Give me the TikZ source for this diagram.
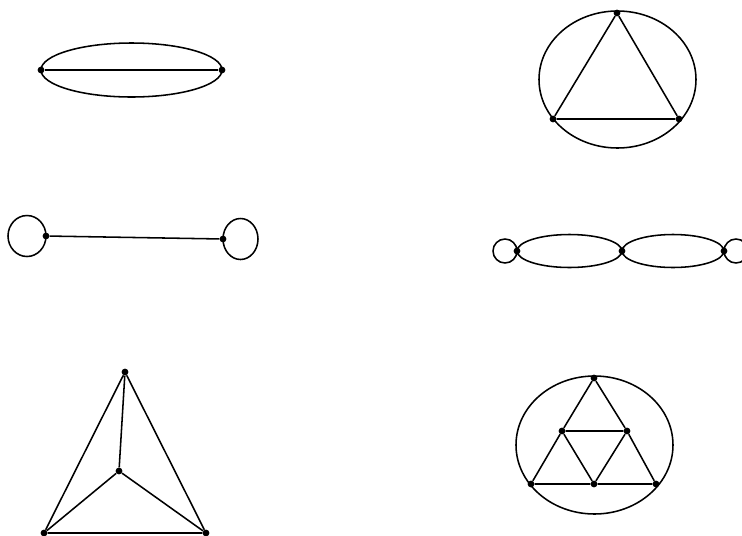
\documentclass[tikz,border=0pt]{standalone}
\usepackage{tikz}
\tikzset{
  vtx/.style={circle, fill=black, inner sep=0pt, minimum size=1.7mm},
  edge/.style={black, line width=1.1pt},
}
\begin{document}
\begin{tikzpicture}[x=0.25mm,y=-0.25mm]
  \path[use as bounding box] (0,0) rectangle (742,535);
  % theta graph
  \node[vtx] (ta) at (41,70) {};
  \node[vtx] (tb) at (222,70) {};
  \draw[edge] (ta) -- (tb);
  \draw[edge] (ta.center) arc[start angle=180, end angle=0, x radius=90.5, y radius=27];
  \draw[edge] (ta.center) arc[start angle=180, end angle=360, x radius=90.5, y radius=27];

  % triangle in ellipse
  \coordinate (kc) at (617.5,79.5);
  \node[vtx] (kt) at (617,13) {};
  \node[vtx] (kl) at (553,119) {};
  \node[vtx] (kr) at (679,119) {};
  \draw[edge] (kc) ellipse [x radius=78.5, y radius=68.5];
  \draw[edge] (kt) -- (kl) -- (kr) -- (kt);

  % dumbbell
  \node[vtx] (da) at (46,236) {};
  \node[vtx] (db) at (223,239) {};
  \draw[edge] (da) -- (db);
  \draw[edge] (da.center) ++(-19,0) ellipse [x radius=19, y radius=20.5];
  \draw[edge] (db.center) ++(17.5,0) ellipse [x radius=17.5, y radius=20.5];

  % chain of lobes
  \node[vtx] (ca) at (517,251) {};
  \node[vtx] (cb) at (622,251) {};
  \node[vtx] (cc) at (724,251) {};
  \draw[edge] (ca.center) arc[start angle=180, end angle=0, x radius=52.5, y radius=16.5];
  \draw[edge] (ca.center) arc[start angle=180, end angle=360, x radius=52.5, y radius=16.5];
  \draw[edge] (cb.center) arc[start angle=180, end angle=0, x radius=51, y radius=16.5];
  \draw[edge] (cb.center) arc[start angle=180, end angle=360, x radius=51, y radius=16.5];
  \draw[edge] (ca.center) ++(-12,0) circle [radius=12];
  \draw[edge] (cc.center) ++(12,0) circle [radius=12];

  % K4
  \node[vtx] (pt) at (125,372) {};
  \node[vtx] (pm) at (119,471) {};
  \node[vtx] (pl) at (44,533) {};
  \node[vtx] (pr) at (206,533) {};
  \draw[edge] (pt) -- (pl) -- (pr) -- (pt) -- (pm);
  \draw[edge] (pl) -- (pm) -- (pr);

  % subdivided triangle in ellipse
  \coordinate (sc) at (594.5,445);
  \node[vtx] (st) at (594,378) {};
  \node[vtx] (sml) at (562,431) {};
  \node[vtx] (smr) at (627,431) {};
  \node[vtx] (sbl) at (531,484) {};
  \node[vtx] (sbm) at (594,484) {};
  \node[vtx] (sbr) at (656,484) {};
  \draw[edge] (sc) ellipse [x radius=78.5, y radius=69];
  \draw[edge] (st) -- (sml) -- (sbl) -- (sbm) -- (sbr) -- (smr) -- (st);
  \draw[edge] (sml) -- (smr) -- (sbm) -- (sml);
\end{tikzpicture}
\end{document}
